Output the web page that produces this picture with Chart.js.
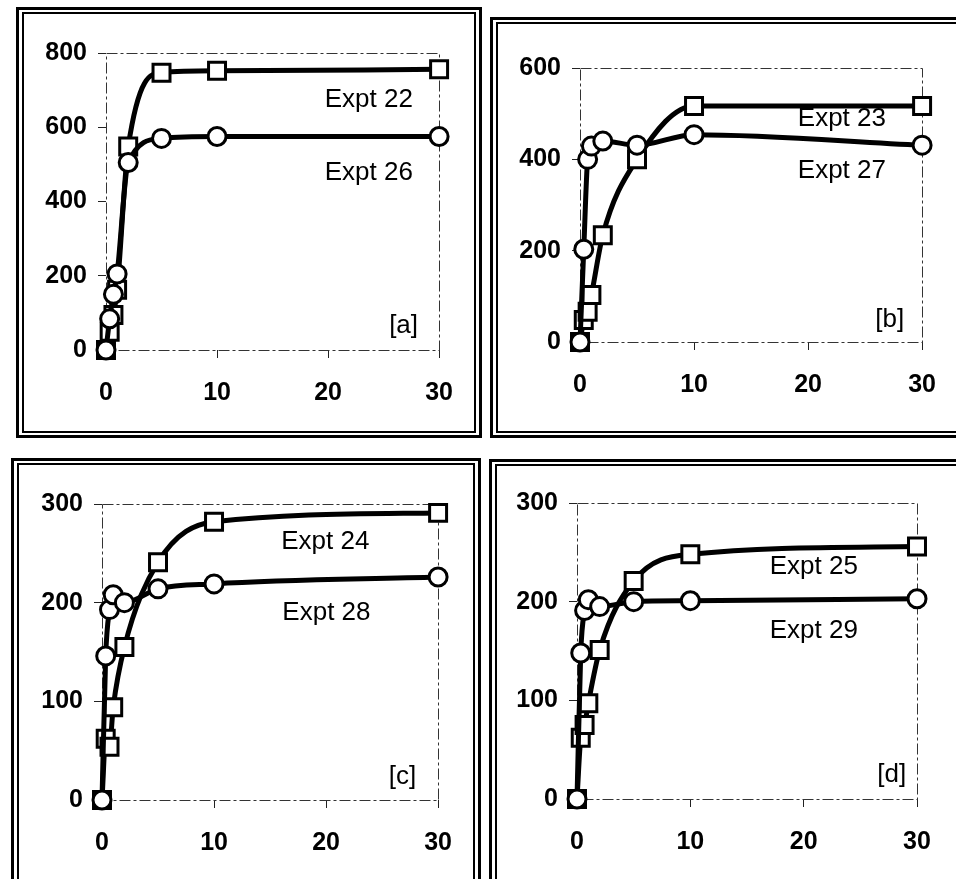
<!DOCTYPE html>
<html lang="en">
<head>
<meta charset="UTF-8">
<title>Expt curves</title>
<script src="https://cdn.jsdelivr.net/npm/chart.js@4.4.1/dist/chart.umd.min.js"></script>
<style>
  body { margin: 0; background: #fff; width: 956px; height: 879px; position: relative; overflow: hidden; }
  .frame { position: absolute; box-sizing: border-box; border: 3px solid #000; }
  .frame.inner { border-width: 2px; }
  canvas { position: absolute; }
</style>
</head>
<body>
<!-- double frames round each panel -->
<div class="frame" style="left:16px;top:7px;width:466px;height:431px"></div>
<div class="frame inner" style="left:22px;top:12px;width:454px;height:421px"></div>
<div class="frame" style="left:490px;top:17px;width:490px;height:421px"></div>
<div class="frame inner" style="left:496px;top:22px;width:480px;height:411px"></div>
<div class="frame" style="left:11px;top:458px;width:470px;height:440px"></div>
<div class="frame inner" style="left:17px;top:463px;width:458px;height:440px"></div>
<div class="frame" style="left:489px;top:459px;width:490px;height:440px"></div>
<div class="frame inner" style="left:495px;top:464px;width:480px;height:440px"></div>

<canvas id="chartA"></canvas>
<canvas id="chartB"></canvas>
<canvas id="chartC"></canvas>
<canvas id="chartD"></canvas>

<script>
// time points (x) shared by all experiments
const timePoints = [0, 0.33, 0.67, 1, 2, 5, 10, 30];
const xTicks = [0, 10, 20, 30];

// squares
const expt22 = [0, 49, 94, 162, 548, 747, 752, 756];
const expt23 = [0, 48, 66, 103, 234, 400, 517, 517];
const expt24 = [0, 62, 54, 94, 155, 241, 282, 291];
const expt25 = [0, 62, 75, 97, 151, 221, 248, 256];
// circles
const expt26 = [0, 84, 150, 205, 505, 570, 575, 575];
const expt27 = [0, 203, 400, 429, 440, 431, 454, 431];
const expt28 = [0, 146, 193, 208, 200, 214, 219, 226];
const expt29 = [0, 148, 191, 202, 195, 200, 201, 203];

const yTicksA = [0, 200, 400, 600, 800];
const yTicksB = [0, 200, 400, 600];
const yTicksC = [0, 100, 200, 300];
const yTicksD = [0, 100, 200, 300];

const FONT = '"Liberation Sans", Arial, sans-serif';

// dashed box round the plot area
const plotBox = {
  id: 'plotBox',
  beforeDatasetsDraw(chart) {
    const a = chart.chartArea, ctx = chart.ctx;
    ctx.save();
    ctx.strokeStyle = '#333';
    ctx.lineWidth = 1;
    ctx.setLineDash([11, 3, 3, 3]);
    ctx.strokeRect(Math.round(a.left) + 0.5, Math.round(a.top) + 0.5,
                   Math.round(a.right - a.left), Math.round(a.bottom - a.top));
    ctx.restore();
  }
};

// "Expt .." and panel letters, placed in data units
const textLabels = {
  id: 'textLabels',
  afterDatasetsDraw(chart, args, opts) {
    const ctx = chart.ctx, xs = chart.scales.x, ys = chart.scales.y;
    ctx.save();
    ctx.fillStyle = '#000';
    ctx.font = '26px ' + FONT;
    ctx.textAlign = 'left';
    ctx.textBaseline = 'middle';
    opts.items.forEach(it => {
      ctx.fillText(it.text, xs.getPixelForValue(it.x), ys.getPixelForValue(it.y));
    });
    ctx.restore();
  }
};

function buildPanel(id, box, area, yTicks, squares, circles, labels) {
  const cv = document.getElementById(id);
  cv.width = box.right - box.left;
  cv.height = box.bottom - box.top;
  cv.style.left = box.left + 'px';
  cv.style.top = box.top + 'px';

  const tickFont = { family: FONT, size: 25, weight: 'bold' };
  const line = {
    borderColor: '#000', borderWidth: 5, cubicInterpolationMode: 'monotone',
    pointBackgroundColor: '#fff', pointBorderColor: '#000', pointBorderWidth: 3,
    clip: false, fill: false
  };

  new Chart(cv, {
    type: 'line',
    data: {
      datasets: [
        Object.assign({}, line, {
          data: timePoints.map((t, i) => ({ x: t, y: circles[i] })),
          pointStyle: 'circle', pointRadius: 9, order: 0
        }),
        Object.assign({}, line, {
          data: timePoints.map((t, i) => ({ x: t, y: squares[i] })),
          pointStyle: 'rect', pointRadius: 12, order: 1
        })
      ]
    },
    options: {
      responsive: false,
      animation: false,
      events: [],
      layout: {
        autoPadding: false,
        padding: { left: 0, bottom: 0, top: area.top - box.top, right: box.right - area.right }
      },
      plugins: {
        legend: { display: false },
        tooltip: { enabled: false },
        textLabels: { items: labels }
      },
      scales: {
        x: {
          type: 'linear', min: 0, max: 30,
          afterBuildTicks: s => { s.ticks = xTicks.map(v => ({ value: v })); },
          afterFit: s => { s.height = box.bottom - area.bottom; },
          ticks: { font: tickFont, color: '#000', padding: 20, maxRotation: 0 },
          grid: { drawOnChartArea: false, tickLength: 8, color: '#222' },
          border: { display: false }
        },
        y: {
          type: 'linear', min: yTicks[0], max: yTicks[yTicks.length - 1],
          afterBuildTicks: s => { s.ticks = yTicks.map(v => ({ value: v })); },
          afterFit: s => { s.width = area.left - box.left; },
          ticks: { font: tickFont, color: '#000', padding: 11 },
          grid: { drawOnChartArea: false, tickLength: 8, color: '#222' },
          border: { display: false }
        }
      }
    },
    plugins: [plotBox, textLabels]
  });
}

buildPanel('chartA',
  { left: 25, top: 15, right: 473, bottom: 430 },
  { left: 106, right: 443, top: 53, bottom: 350 },
  yTicksA, expt22, expt26,
  [{ text: 'Expt 22', x: 19.7, y: 673 }, { text: 'Expt 26', x: 19.7, y: 478 }, { text: '[a]', x: 25.5, y: 65 }]);

buildPanel('chartB',
  { left: 500, top: 26, right: 956, bottom: 430 },
  { left: 580, right: 936, top: 68, bottom: 342 },
  yTicksB, expt23, expt27,
  [{ text: 'Expt 23', x: 19.1, y: 489 }, { text: 'Expt 27', x: 19.1, y: 375 }, { text: '[b]', x: 25.9, y: 48 }]);

buildPanel('chartC',
  { left: 21, top: 467, right: 472, bottom: 879 },
  { left: 102, right: 440, top: 504, bottom: 800 },
  yTicksC, expt24, expt28,
  [{ text: 'Expt 24', x: 16.0, y: 262 }, { text: 'Expt 28', x: 16.1, y: 190 }, { text: '[c]', x: 25.6, y: 23 }]);

buildPanel('chartD',
  { left: 499, top: 468, right: 956, bottom: 879 },
  { left: 577, right: 917, top: 503, bottom: 799 },
  yTicksD, expt25, expt29,
  [{ text: 'Expt 25', x: 17.0, y: 235 }, { text: 'Expt 29', x: 17.0, y: 170 }, { text: '[d]', x: 26.5, y: 25 }]);
</script>
</body>
</html>
